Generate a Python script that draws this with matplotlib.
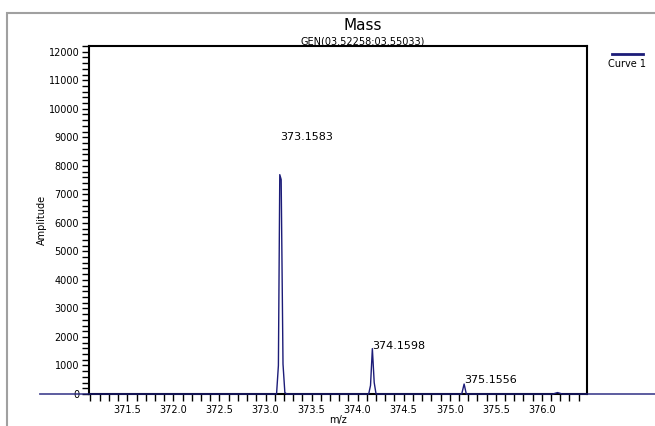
import matplotlib
matplotlib.use("Agg")
import matplotlib.pyplot as plt
from matplotlib.lines import Line2D
from matplotlib.patches import Rectangle
from matplotlib.ticker import MultipleLocator

plt.rcParams['font.family'] = ['DejaVu Sans']

# spectrum profile (m/z, amplitude)
mz = [370.55, 371.0, 371.5, 372.0, 372.5, 373.0, 373.10, 373.12, 373.14,
      373.155, 373.17, 373.19, 373.21, 373.23, 373.6, 374.0, 374.12,
      374.14, 374.16, 374.18, 374.20, 374.6, 375.0, 375.13, 375.156,
      375.18, 375.6, 376.12, 376.17, 376.22, 376.6, 377.3]
amp = [0, 0, 0, 0, 0, 0, 0, 0, 1000,
       7690, 7520, 1050, 50, 0, 0, 0, 0,
       300, 1590, 400, 0, 0, 0, 0, 350,
       0, 0, 0, 50, 0, 0, 0]

peak_mz = [373.1583, 374.1598, 375.1556]
peak_label_y = [9000, 1690, 490]
peak_labels = ["373.1583", "374.1598", "375.1556"]

W, H = 655, 426
fig = plt.figure(figsize=(W / 100, H / 100), dpi=100)
ax = fig.add_axes([89 / W, (H - 394) / H, (587 - 89) / W, (394 - 46) / H])

ax.plot(mz, amp, color="#1c1c78", lw=1.0, clip_on=False, zorder=5)

for x, y, t in zip(peak_mz, peak_label_y, peak_labels):
    ax.text(x, y, t, fontsize=8, ha="left", va="center")

ax.set_xlim(371.084, 376.49)
ax.set_ylim(0, 12200)
ax.xaxis.set_major_locator(MultipleLocator(0.5))
ax.xaxis.set_minor_locator(MultipleLocator(0.1))
ax.yaxis.set_major_locator(MultipleLocator(1000))
ax.yaxis.set_minor_locator(MultipleLocator(200))
ax.xaxis.set_major_formatter(matplotlib.ticker.FormatStrFormatter("%.1f"))
ax.tick_params(which="both", direction="out", length=5, width=1, labelsize=7, pad=2)
ax.tick_params(axis="x", which="major", labelsize=7, pad=3)
xt = [t for t in ax.get_xticks()]
ax.set_xticks([t for t in xt if 371.4 < t < 376.1])

for s in ax.spines.values():
    s.set_linewidth(1.5)
    s.set_color("black")

ax.set_xlabel("m/z", fontsize=7, labelpad=0)
ax.set_ylabel("Amplitude", fontsize=7, labelpad=1)

fig.text(363 / W, 1 - 26 / H, "Mass", fontsize=11, ha="center", va="center")
fig.text(363 / W, 1 - 41 / H, "GEN(03.52258:03.55033)", fontsize=7, ha="center", va="center")

# legend
fig.add_artist(Line2D([612 / W, 643 / W], [1 - 54 / H, 1 - 54 / H], color="#1c1c78", lw=2))
fig.text(627 / W, 1 - 64 / H, "Curve 1", fontsize=7, ha="center", va="center")

# outer frame
fig.add_artist(Rectangle((7 / W, -0.1), 1.2, 1 - 13 / H + 0.1, fill=False,
                         edgecolor="#a0a0a0", lw=1.5, transform=fig.transFigure))

fig.savefig("out.png", dpi=100)
